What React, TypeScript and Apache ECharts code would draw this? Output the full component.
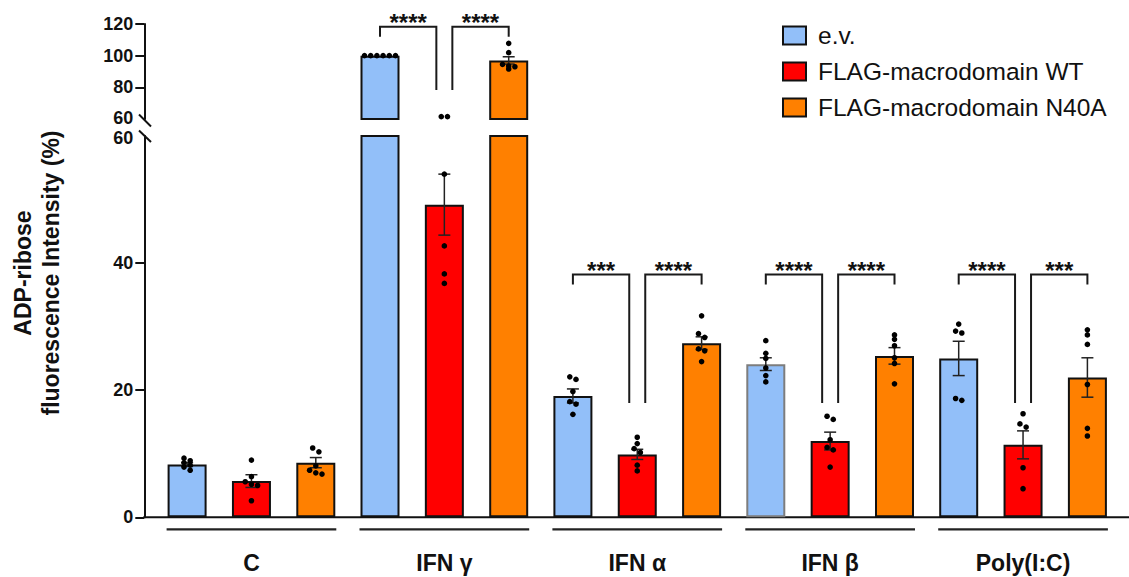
import React, { useEffect, useRef } from 'react';
import * as echarts from 'echarts';

// ---------- data ----------
const categories = ['C', 'IFN γ', 'IFN α', 'IFN β', 'Poly(I:C)'];
const seriesNames = ['e.v.', 'FLAG-macrodomain WT', 'FLAG-macrodomain N40A'];

const evMean = [8.3, 100, 19.1, 24.1, 25.0];
const wtMean = [5.7, 49.2, 9.9, 12.0, 11.4];
const n40aMean = [8.6, 97.0, 27.4, 25.4, 22.0];

const evSem = [0.3, 0, 1.1, 1.0, 2.7];
const wtSem = [1.0, 4.8, 0.8, 1.4, 2.2];
const n40aSem = [0.8, 2.3, 1.0, 1.3, 3.1];

const evDots = [
  [8.9, 8.6, 9.3, 8.2, 7.9, 7.4],
  [100, 100, 100, 100, 100, 100],
  [22.1, 21.7, 19.8, 18.2, 17.8, 16.2],
  [27.8, 25.8, 25.0, 23.5, 22.3, 21.3],
  [30.4, 29.3, 29.0, 18.7, 18.4],
];
const wtDots = [
  [9.0, 6.4, 5.6, 5.2, 5.0, 2.6],
  [61.5, 61.5, 54.0, 42.7, 38.3, 36.8],
  [12.6, 11.6, 10.8, 10.2, 8.2, 7.3],
  [15.9, 15.4, 12.2, 11.0, 10.6, 7.9],
  [16.3, 14.7, 14.2, 7.8, 4.5],
];
const n40aDots = [
  [10.9, 10.3, 8.1, 7.4, 7.0, 6.8],
  [107.8, 101.9, 94.5, 93.5, 93.0, 91.6],
  [31.7, 28.9, 28.3, 26.5, 26.2, 24.5],
  [28.7, 28.0, 27.0, 25.1, 24.2, 21.0],
  [29.5, 28.7, 27.2, 20.9, 14.0, 12.8],
];

// significance brackets (per category): top value, end of long legs, stars
const bracketTop: (number | null)[] = [null, 118.3, 38.2, 38.2, 38.2];
const bracketLegEnd: (number | null)[] = [null, 78.3, 18.0, 18.0, 18.0];
const starsLeft = ['', '****', '***', '****', '****'];
const starsRight = ['', '****', '****', '****', '***'];

const upperTicks = [60, 80, 100, 120];
const lowerTicks = [0, 20, 40, 60];

// ---------- layout ----------
const FONT = "'Liberation Sans', Arial, Helvetica, sans-serif";
const colors = ['#92BFF9', '#FF0000', '#FF8000'];
const BREAK = 60;
const W = 1129;
const H = 577;
const GRID_LEFT = 155;
const GRID_RIGHT = 9.5;
const UP_TOP = 24;
const UP_H = 95;
const LOW_TOP = 136;
const LOW_H = 381.3;
const AXIS_X = 144.3;
const BAR_W = 39;
const BAR_GAP = 0.65;
const BAR_STEP = BAR_W * (1 + BAR_GAP);

export default function App() {
  const ref = useRef<HTMLDivElement>(null);

  useEffect(() => {
    const chart = echarts.init(ref.current as HTMLDivElement, null, { renderer: 'svg' });
    const means = [evMean, wtMean, n40aMean];
    const sems = [evSem, wtSem, n40aSem];
    const dots = [evDots, wtDots, n40aDots];

    const barItems: number[][] = [];
    categories.forEach((_, c) => [0, 1, 2].forEach((k) => barItems.push([c, k])));
    const bracketItems: number[][] = [];
    categories.forEach((_, c) => [0, 1].forEach((s) => bracketItems.push([c, s])));

    const barX = (api: any, cat: number, k: number) => api.coord([cat, 0])[0] + (k - 1) * BAR_STEP;

    const barSeries = (g: number, keep: (v: number) => boolean) =>
      means.map((arr, k) => ({
        type: 'bar',
        name: seriesNames[k],
        xAxisIndex: g,
        yAxisIndex: g,
        barWidth: BAR_W,
        barGap: `${BAR_GAP * 100}%`,
        clip: true,
        z: 2,
        itemStyle: { color: colors[k], borderColor: '#111', borderWidth: 2 },
        data: arr.map((v, i) => {
          const val = keep(v) ? v : '-';
          return k === 0 && i === 3 ? { value: val, itemStyle: { borderColor: '#7d7d7d' } } : val;
        }),
      }));

    const dotSeries = (g: number, lo: number, hi: number) => ({
      type: 'custom',
      xAxisIndex: g,
      yAxisIndex: g,
      z: 5,
      silent: true,
      data: barItems,
      renderItem: (params: any, api: any) => {
        const cat = api.value(0);
        const k = api.value(1);
        const vals = dots[k][cat].filter((v) => v > lo && v <= hi);
        const cx = barX(api, cat, k);
        const ys = vals.map((v) => api.coord([cat, v])[1]).sort((a, b) => a - b);
        const children: any[] = [];
        let i = 0;
        while (i < ys.length) {
          let j = i + 1;
          while (j < ys.length && ys[j] - ys[i] < 4) j++;
          const n = j - i;
          for (let m = 0; m < n; m++) {
            children.push({
              type: 'circle',
              shape: { cx: cx + (m - (n - 1) / 2) * 6.2, cy: ys[i + m], r: 2.8 },
              style: { fill: '#000' },
            });
          }
          i = j;
        }
        return { type: 'group', children };
      },
    });

    const errSeries = (g: number, lo: number, hi: number) => ({
      type: 'custom',
      xAxisIndex: g,
      yAxisIndex: g,
      z: 4,
      silent: true,
      data: barItems,
      renderItem: (params: any, api: any) => {
        const cat = api.value(0);
        const k = api.value(1);
        const m = means[k][cat];
        const s = sems[k][cat];
        const children: any[] = [];
        const a = m - s;
        const b = m + s;
        if (s > 0 && !(b <= lo || a >= hi)) {
          const x = barX(api, cat, k);
          const ya = api.coord([cat, Math.max(a, lo)])[1];
          const yb = api.coord([cat, Math.min(b, hi)])[1];
          const st = { stroke: '#222', lineWidth: 1.5 };
          children.push({ type: 'line', shape: { x1: x, y1: ya, x2: x, y2: yb }, style: st });
          if (b <= hi) children.push({ type: 'line', shape: { x1: x - 6, y1: yb, x2: x + 6, y2: yb }, style: st });
          if (a >= lo) children.push({ type: 'line', shape: { x1: x - 6, y1: ya, x2: x + 6, y2: ya }, style: st });
        }
        return { type: 'group', children };
      },
    });

    const bracketSeries = (g: number, lo: number, hi: number) => ({
      type: 'custom',
      xAxisIndex: g,
      yAxisIndex: g,
      z: 5,
      silent: true,
      data: bracketItems,
      renderItem: (params: any, api: any) => {
        const cat = api.value(0);
        const side = api.value(1);
        const top = bracketTop[cat];
        const legEnd = bracketLegEnd[cat];
        const children: any[] = [];
        if (top != null && legEnd != null && top > lo && top <= hi) {
          const yTop = api.coord([cat, top])[1];
          const yLong = api.coord([cat, legEnd])[1];
          const yShort = yTop + 10;
          const xWT = barX(api, cat, 1);
          let x1: number, y1: number, x2: number, y2: number;
          if (side === 0) {
            x1 = barX(api, cat, 0); y1 = yShort; x2 = xWT - 8; y2 = yLong;
          } else {
            x1 = xWT + 8; y1 = yLong; x2 = barX(api, cat, 2); y2 = yShort;
          }
          children.push({
            type: 'polyline',
            shape: { points: [[x1, y1], [x1, yTop], [x2, yTop], [x2, y2]] },
            style: { stroke: '#1a1a1a', lineWidth: 2, fill: 'none' },
          });
          children.push({
            type: 'text',
            x: (x1 + x2) / 2,
            y: yTop - 4,
            style: {
              text: side === 0 ? starsLeft[cat] : starsRight[cat],
              fill: '#111',
              fontSize: 24,
              fontWeight: 'bold',
              fontFamily: FONT,
              align: 'center',
              verticalAlign: 'middle',
              textAlign: 'center',
              textVerticalAlign: 'middle',
            },
          });
        }
        return { type: 'group', children };
      },
    });

    const groupLineSeries = {
      type: 'custom',
      xAxisIndex: 1,
      yAxisIndex: 1,
      z: 5,
      silent: true,
      data: categories.map((_, c) => [c, 0]),
      renderItem: (params: any, api: any) => {
        const cat = api.value(0);
        const y = api.coord([cat, 0])[1] + 12;
        return {
          type: 'line',
          shape: { x1: barX(api, cat, 0) - BAR_W / 2 - 1, y1: y, x2: barX(api, cat, 2) + BAR_W / 2 + 1, y2: y },
          style: { stroke: '#222', lineWidth: 2.2 },
        };
      },
    };

    const labelFont = { color: '#111', fontSize: 18, lineHeight: 15, fontWeight: 'bold', fontFamily: FONT };
    const yAxisCommon = {
      type: 'value',
      interval: 20,
      offset: GRID_LEFT - AXIS_X,
      splitLine: { show: false },
      axisLine: { show: true, lineStyle: { color: '#111', width: 2 } },
    };

    const yLowBottom = LOW_TOP + LOW_H;

    chart.setOption({
      animation: false,
      backgroundColor: '#fff',
      textStyle: { fontFamily: FONT },
      legend: {
        data: seriesNames,
        orient: 'vertical',
        left: 777,
        top: 18,
        itemWidth: 23,
        itemHeight: 18,
        itemGap: 11,
        icon: 'rect',
        selectedMode: false,
        textStyle: { fontSize: 24.5, color: '#111', fontFamily: FONT, padding: [0, 0, 0, 7] },
      },
      grid: [
        { left: GRID_LEFT, right: GRID_RIGHT, top: UP_TOP, height: UP_H },
        { left: GRID_LEFT, right: GRID_RIGHT, top: LOW_TOP, height: LOW_H },
      ],
      xAxis: [
        { gridIndex: 0, type: 'category', data: categories, show: false },
        {
          gridIndex: 1,
          type: 'category',
          data: categories,
          axisLine: { show: false },
          axisTick: { show: false },
          axisLabel: { color: '#111', fontSize: 23, fontWeight: 'bold', fontFamily: FONT, margin: 34 },
        },
      ],
      yAxis: [
        {
          ...yAxisCommon,
          gridIndex: 0,
          min: upperTicks[0],
          max: upperTicks[upperTicks.length - 1],
          axisTick: { show: true, length: 9, lineStyle: { color: '#111', width: 2 }, customValues: upperTicks.slice(1) },
          axisLabel: {
            ...labelFont,
            margin: 11,
            formatter: (v: number) => (v === upperTicks[0] ? `{b|${v}}` : `${v}`),
            rich: { b: { ...labelFont, padding: [0, 0, 3, 0] } },
          },
        },
        {
          ...yAxisCommon,
          gridIndex: 1,
          min: lowerTicks[0],
          max: lowerTicks[lowerTicks.length - 1],
          axisTick: { show: true, length: 9, lineStyle: { color: '#111', width: 2 }, customValues: lowerTicks.slice(0, -1) },
          axisLabel: {
            ...labelFont,
            margin: 11,
            formatter: (v: number) => (v === lowerTicks[lowerTicks.length - 1] ? `{t|${v}}` : `${v}`),
            rich: { t: { ...labelFont, padding: [3, 0, 0, 0] } },
          },
        },
      ],
      graphic: [
        { type: 'line', shape: { x1: AXIS_X - 1, y1: yLowBottom, x2: W, y2: yLowBottom }, style: { stroke: '#111', lineWidth: 2 } },
        { type: 'line', shape: { x1: 139, y1: 114.5, x2: 151, y2: 126.5 }, style: { stroke: '#111', lineWidth: 2 } },
        { type: 'line', shape: { x1: 139, y1: 130.5, x2: 151, y2: 142 }, style: { stroke: '#111', lineWidth: 2 } },
        {
          type: 'text', x: 37, y: 273, rotation: Math.PI / 2,
          style: {
            text: 'ADP-ribose\nfluorescence Intensity (%)', fill: '#111', fontSize: 23, fontWeight: 'bold', fontFamily: FONT,
            lineHeight: 28.5, align: 'center', verticalAlign: 'middle', textAlign: 'center', textVerticalAlign: 'middle',
          },
        },
      ],
      series: [
        ...barSeries(0, (v) => v > BREAK),
        ...barSeries(1, () => true),
        errSeries(0, BREAK, Infinity),
        errSeries(1, -Infinity, BREAK),
        dotSeries(0, BREAK, Infinity),
        dotSeries(1, -Infinity, BREAK),
        bracketSeries(0, BREAK, Infinity),
        bracketSeries(1, -Infinity, BREAK),
        groupLineSeries,
      ],
    });

    return () => chart.dispose();
  }, []);

  return <div ref={ref} style={{ position: 'absolute', left: 0, top: 0, width: W, height: H }} />;
}
